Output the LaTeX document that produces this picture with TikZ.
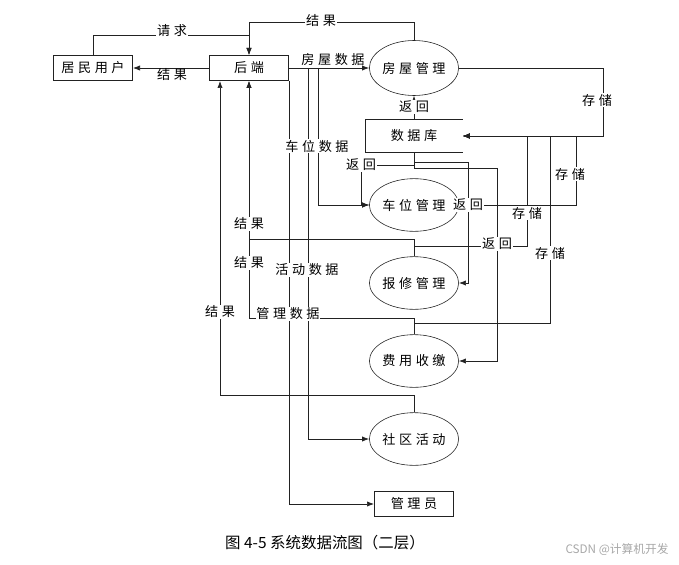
\documentclass[tikz,border=0pt]{standalone}
\usepackage{fontspec}
\setmainfont{Noto Sans CJK SC}
\newfontfamily\dfdfont[LetterSpace=27]{Noto Sans CJK SC}
\usetikzlibrary{arrows.meta, shapes.geometric}
\definecolor{dfline}{HTML}{222222}
\definecolor{dfmark}{HTML}{A8A8A8}

\begin{document}
\begin{tikzpicture}[x=0.03cm, y=-0.03cm, font=\dfdfont\fontsize{11.2pt}{13pt}\selectfont,
    ent/.style={draw=dfline, line width=0.8pt, minimum width=2.37cm, minimum height=0.75cm, inner sep=0},
    proc/.style={ellipse, draw=dfline, line width=0.5pt, minimum width=2.33cm, minimum height=1.58cm, inner sep=0},
    flow/.style={draw=dfline, line width=0.6pt, -{Latex[length=6pt,width=4.5pt]}},
    link/.style={draw=dfline, line width=0.6pt},
    lbl/.style={fill=white, inner sep=0.6pt}]
  \useasboundingbox (0,0) rectangle (679,564);
  % external entities
  \node[ent] (user) at (93,68) {居民用户};
  \node[ent] (backend) at (249,68) {后端};
  \node[ent] (admin) at (414,504) {管理员};
  % processes
  \node[proc, minimum height=1.65cm] (house) at (414,68) {房屋管理};
  \node[proc] (parking) at (414,205) {车位管理};
  \node[proc] (repair) at (414,283) {报修管理};
  \node[proc] (fee) at (414,361) {费用收缴};
  \node[proc] (activity) at (414,439) {社区活动};
  % data store, open on the right
  \node[minimum width=2.91cm, minimum height=0.96cm, inner sep=0] (db) at (414,136) {数据库};
  \draw[link] (db.north east) -- (db.north west) -- (db.south west) -- (db.south east);
  % taps on the backend side
  \path (backend.east) ++(19,0) coordinate (tapA) ++(10,0) coordinate (tapB);
  \path (backend.south) ++(-29,0) coordinate (inA);
  % user <-> backend
  \draw[flow] (user.north) -- ++(0,-20) -| (backend.north);
  \draw[flow] (house.north) -- ++(0,-18) -| (backend.north);
  \draw[flow] (backend.west) -- (user.east);
  % backend -> processes
  \draw[flow] (backend.east) -- (house.west);
  \draw[flow] (tapB) |- (parking.west);
  \draw[flow] (tapA) |- (activity.west);
  \draw[flow] (backend.south east) |- (admin.west);
  % database returns
  \draw[flow] (db.north) -- (house.south);
  \draw[flow] (db.south) -- ++(0,13) -- ++(-53,0) |- (parking.west);
  \draw[flow] (db.south) -- ++(0,10) -- ++(54,0) |- (repair.east);
  \draw[flow] (db.south) -- ++(0,16) -- ++(83,0) |- (fee.east);
  % storing
  \draw[flow] (house.east) -- ++(144,0) |- (db.east);
  \draw[flow] (parking.east) -- ++(117,0) |- (db.east);
  \draw[flow] (repair.north) -- ++(0,-10) -- ++(113,0) |- (db.east);
  \draw[flow] (fee.north) -- ++(0,-11) -- ++(136,0) |- (db.east);
  % results back to backend
  \draw[flow] (repair.north) -- ++(0,-17) -| (backend.south);
  \draw[flow] (fee.north) -- ++(0,-16) -| (backend.south);
  \draw[flow] (activity.north) -- ++(0,-17) -| (inA);
  % labels
  \node at (333,60) {房屋数据};
  \node at (172,75) {结果};
  \foreach \x/\y/\t in {172/31/请求, 321/21/结果, 414/107/返回, 597/100/存储,
      317/146/车位数据, 361/165/返回, 570/174/存储, 468/205/返回, 527/213/存储,
      249/224/结果, 497/244/返回, 550/253/存储, 249/263/结果, 307/270/活动数据,
      220/312/结果, 288/314/管理数据}
    \node[lbl] at (\x,\y) {\t};
  % caption
  \node[font=\normalfont\fontsize{13.2pt}{15pt}\selectfont] (cap) at (325,543) {图 4-5 系统数据流图（二层）};
  \node[font=\normalfont\fontsize{10pt}{12pt}\selectfont, text=dfmark] (mark) at (617,550) {CSDN @计算机开发};
\end{tikzpicture}
\end{document}
